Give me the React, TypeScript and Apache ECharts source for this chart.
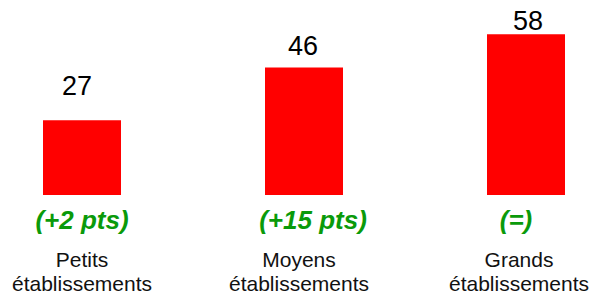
import React, { useEffect, useRef } from "react";
import * as echarts from "echarts";

const categories = ["Petits\nétablissements", "Moyens\nétablissements", "Grands\nétablissements"];
const values = [27, 46, 58];
const deltas = ["(+2 pts)", "(+15 pts)", "(=)"];

// per-item label placement tweaks (px)
const valueLabelDistance = [21, 8, 0];
const valueLabelDx = [-5, -1, 2];
const deltaShift = [0, 9, -10];
const catShift = [0, -5, -7];

const FONT = "'Liberation Sans', Arial, sans-serif";

function pad(shift: number) {
  return shift >= 0 ? [0, 0, 0, shift * 2] : [0, -shift * 2, 0, 0];
}

export default function App() {
  const ref = useRef<HTMLDivElement>(null);
  useEffect(() => {
    if (!ref.current) return;
    const chart = echarts.init(ref.current, null, { renderer: "svg" });
    const rich: any = {};
    categories.forEach((_, i) => {
      rich["g" + i] = {
        fontFamily: FONT,
        fontSize: 26,
        fontWeight: "bold",
        fontStyle: "italic",
        color: "#0a9a0a",
        lineHeight: 30,
        padding: pad(deltaShift[i]),
      };
      rich["c" + i] = {
        fontFamily: FONT,
        fontSize: 21,
        color: "#111",
        lineHeight: 24,
        padding: pad(catShift[i]),
      };
    });
    rich.s = { fontSize: 1, lineHeight: 12 };
    chart.setOption({
      animation: false,
      grid: { left: 0, right: 0, top: 1, bottom: 99 },
      xAxis: {
        type: "category",
        data: categories,
        boundaryGap: true,
        axisLine: { show: false },
        axisTick: { show: false },
        axisLabel: {
          margin: 10,
          interval: 0,
          rich,
          formatter: (v: string, i: number) => {
            const lines = v.split("\n").map((l) => `{c${i}|${l}}`).join("\n");
            return `{g${i}|${deltas[i]}}\n{s| }\n${lines}`;
          },
        },
      },
      yAxis: { type: "value", min: 0, max: 70, show: false, splitLine: { show: false } },
      series: [
        {
          type: "bar",
          barWidth: 78,
          itemStyle: { color: "#ff0000" },
          data: values.map((v, i) => ({
            value: v,
            label: {
              show: true,
              position: "top",
              distance: valueLabelDistance[i],
              offset: [valueLabelDx[i], 0],
              fontFamily: FONT,
              fontSize: 27,
              lineHeight: 27,
              color: "#000",
            },
          })),
        },
      ],
    });
    return () => chart.dispose();
  }, []);
  return (
    <div
      style={{
        position: "absolute",
        left: 0,
        top: 0,
        width: 594,
        height: 294,
        overflow: "hidden",
        background: "#fff",
      }}
    >
      <div ref={ref} style={{ position: "absolute", left: -29, top: 0, width: 666, height: 294 }} />
    </div>
  );
}
